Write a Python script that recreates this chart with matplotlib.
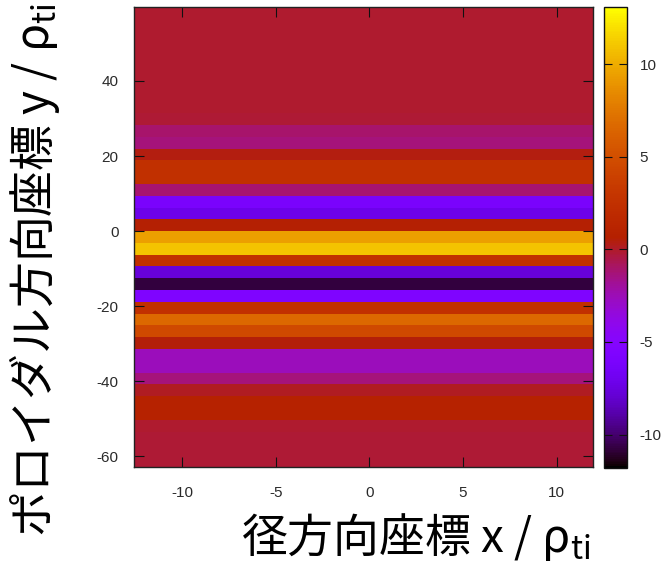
import numpy as np
import matplotlib
matplotlib.use("Agg")
import matplotlib.pyplot as plt

plt.rcParams['font.family'] = ['Liberation Sans', 'DejaVu Sans']
plt.rcParams['axes.unicode_minus'] = False
plt.rcParams['mathtext.fontset'] = 'custom'
plt.rcParams['mathtext.rm'] = 'Noto Sans CJK JP'

# band values (top to bottom), one per poloidal cell row
band_values_top_to_bottom = [
    -0.05, -0.05, -0.05, -0.05, -0.05, -0.05, -0.05, -0.05, -0.05,
    -0.2, -1.1, -1.35, 0.4, 2.4, 2.4, -1.2, -6.1, -7.2, 0.6,
    9.4, 10.9, 2.4, -7.7, -10.8, -5.6, 2.4, 6.6, 4.6, 0.5,
    -2.6, -2.6, -1.35, 0.1, 0.9, 0.9, -0.05, -0.2, -0.2, -0.2,
]
x_ticks = [-10, -5, 0, 5, 10]
y_ticks = [-60, -40, -20, 0, 20, 40]
cb_ticks = [-10, -5, 0, 5, 10]
cb_min, cb_max = -11.79, 13.07

# grid
nx = 40
x_grid = -4 * np.pi + np.arange(nx) * (np.pi / 5)
ny = len(band_values_top_to_bottom) + 1
y_grid = -20 * np.pi + np.arange(ny) * np.pi

vals = np.array(band_values_top_to_bottom[::-1])
Z = np.repeat(vals[:, None], nx - 1, axis=1)

fig = plt.figure(figsize=(6.66, 5.62), dpi=100)
ax = fig.add_axes([134/666, 1-467/562, (593-134)/666, (467-7)/562])
mesh = ax.pcolormesh(x_grid, y_grid, Z, cmap='gnuplot', vmin=cb_min, vmax=cb_max,
                     shading='flat', edgecolors='face', linewidth=0)
ax.set_xlim(x_grid[0], x_grid[-1])
ax.set_ylim(y_grid[0], y_grid[-1])
ax.set_xticks(x_ticks)
ax.set_yticks(y_ticks)
ax.tick_params(direction='in', length=7, width=0.8, color='#111', top=True, right=True,
               labelsize=11, labelcolor='#2a2a2a')
ax.tick_params(axis='x', pad=14)
ax.tick_params(axis='y', pad=11)
for s in ax.spines.values():
    s.set_color('#222')
    s.set_linewidth(1.0)

cax = fig.add_axes([604/666, 1-467.7/562, 23/666, (467.7-7.3)/562])
cb = fig.colorbar(mesh, cax=cax, ticks=cb_ticks)
cb.outline.set_edgecolor('#111')
cb.outline.set_linewidth(1.0)
cax.tick_params(direction='in', length=6, width=0.8, color='#111', left=True, right=True,
                labelsize=11, labelcolor='#2a2a2a', pad=9)

fig.text(416/666, 1-537/562, r'径方向座標 x / ρ$_{\mathrm{ti}}$',
         family=['Noto Sans CJK JP', 'DejaVu Sans'], fontsize=33, ha='center', va='center')
fig.text(35/666, 1-270/562, r'ポロイダル方向座標 y / ρ$_{\mathrm{ti}}$',
         family=['Noto Sans CJK JP', 'DejaVu Sans'], fontsize=33, ha='center', va='center',
         rotation=90)

fig.savefig('out.png', dpi=100)
